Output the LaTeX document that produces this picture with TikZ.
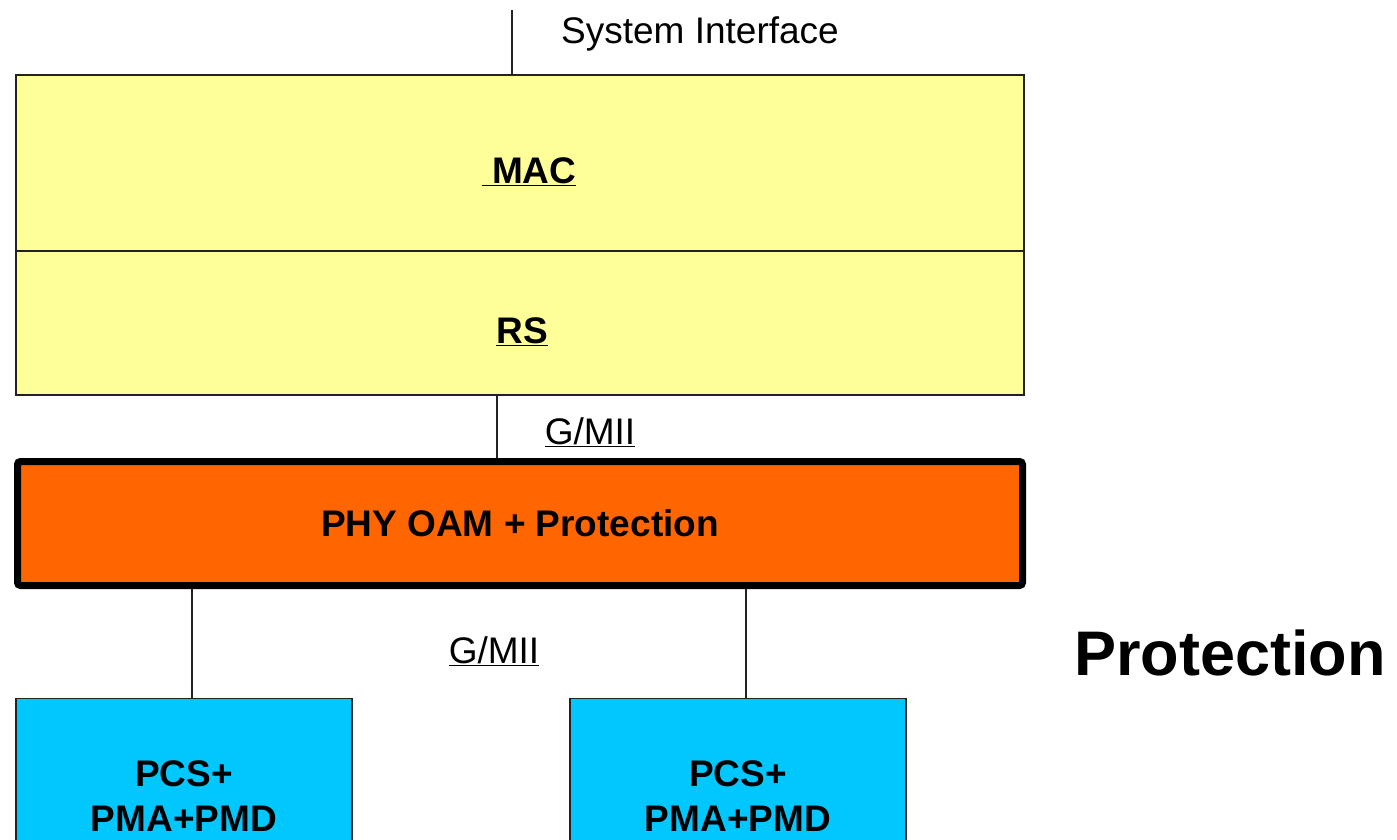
\documentclass[tikz,border=0pt]{standalone}
\usepackage{fontspec}
\setmainfont{Liberation Sans}
\definecolor{macyellow}{HTML}{FFFF99}
\definecolor{phyorange}{HTML}{FF6600}
\definecolor{pcscyan}{HTML}{00C8FF}
\definecolor{edgegray}{HTML}{222222}
\newcommand{\ulx}[1]{\underline{#1}}
\tikzset{
  layerbox/.style={draw=edgegray, line width=1.3pt, fill=macyellow, inner sep=0pt, minimum width=1008pt},
  phybox/.style={draw=black, line width=7pt, fill=phyorange, rounded corners=3pt, inner sep=0pt, minimum width=1005pt, minimum height=124pt},
  pcsbox/.style={draw=edgegray, line width=1.3pt, fill=pcscyan, inner sep=0pt, minimum width=336pt, minimum height=170pt},
  lbl/.style={font=\fontsize{37}{45}\selectfont, inner sep=0pt},
  blbl/.style={font=\fontsize{37}{45}\selectfont\bfseries, inner sep=0pt, align=center},
  conn/.style={draw=edgegray, line width=1.3pt}
}
\begin{document}
\begin{tikzpicture}[x=1pt,y=-1pt]
\useasboundingbox (0,0) rectangle (1397,840);
\node[layerbox, minimum height=176pt] (MAC) at (520,163) {};
\node[layerbox, minimum height=144pt] (RS) at (520,323) {};
\node[blbl] (mact) at (529,172) {\ulx{\ MAC}};
\node[blbl] (rst) at (522,332) {\ulx{RS}};
\node[lbl, anchor=west] (sys) at (561,34) {System Interface};
\coordinate (systop) at (512,10);
\draw[conn] (systop) -- (systop |- MAC.north);
\node[phybox] (PHY) at (520,523.5) {};
\node[blbl] (phyt) at (520,523) {PHY OAM + Protection};
\coordinate (c1) at (497,0);
\draw[conn] (c1 |- RS.south) -- (c1 |- PHY.north);
\node[lbl] (g1) at (590,432) {\ulx{G/MII}};
\node[pcsbox, anchor=north] (PCS1) at (184,698) {};
\node[pcsbox, anchor=north] (PCS2) at (738,698) {};
\node[blbl] (p1t) at (184,796) {PCS+\\PMA+PMD};
\node[blbl] (p2t) at (738,796) {PCS+\\PMA+PMD};
\coordinate (c2) at (192,0);
\coordinate (c3) at (746,0);
\draw[conn] (c2 |- PHY.south) -- (c2 |- PCS1.north);
\draw[conn] (c3 |- PHY.south) -- (c3 |- PCS2.north);
\node[lbl] (g2) at (494,651) {\ulx{G/MII}};
\node[font=\fontsize{63}{70}\selectfont\bfseries, inner sep=0pt, anchor=west] (prot) at (1074,653) {Protection};
\end{tikzpicture}
\end{document}
